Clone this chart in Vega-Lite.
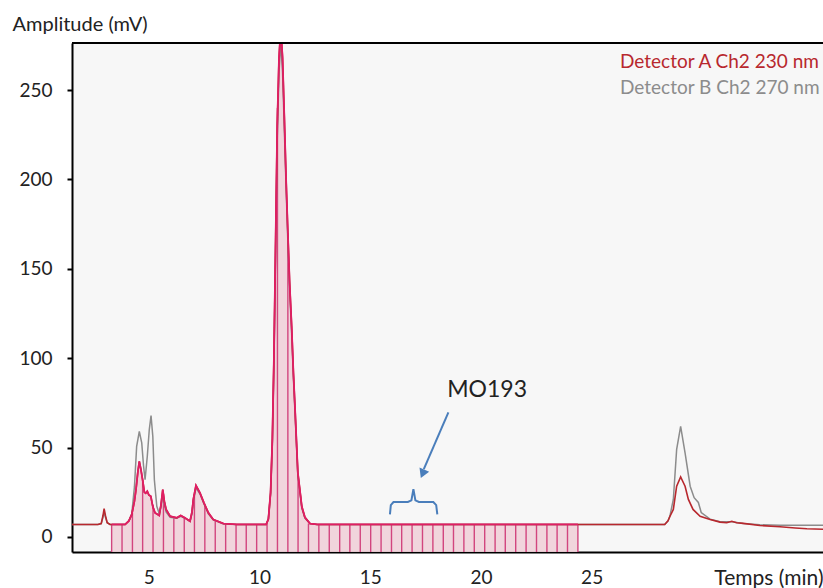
{
  "$schema": "https://vega.github.io/schema/vega-lite/v6.json",
  "width": 751,
  "height": 509,
  "autosize": {"type": "none"},
  "padding": {"left": 72, "top": 43, "right": 0, "bottom": 36},
  "background": "white",
  "config": {"view": {"stroke": null, "fill": "#f7f7f7"}, "font": "Lato", "axis": {"grid": false}},
  "datasets": {
    "A": [
      {"t": 1.53, "v": 7}, {"t": 2.7, "v": 7}, {"t": 2.85, "v": 7.5}, {"t": 2.93, "v": 12}, {"t": 2.98, "v": 15.8},
      {"t": 3.04, "v": 12}, {"t": 3.12, "v": 8}, {"t": 3.25, "v": 7}, {"t": 3.32, "v": 7}, {"t": 3.93, "v": 7},
      {"t": 4.1, "v": 9}, {"t": 4.23, "v": 12.6}, {"t": 4.35, "v": 20}, {"t": 4.42, "v": 26.5}, {"t": 4.5, "v": 36},
      {"t": 4.57, "v": 42.3}, {"t": 4.64, "v": 38}, {"t": 4.72, "v": 32}, {"t": 4.8, "v": 25}, {"t": 4.86, "v": 24.5},
      {"t": 4.93, "v": 25.6}, {"t": 5.0, "v": 23.5}, {"t": 5.09, "v": 22.8}, {"t": 5.18, "v": 17}, {"t": 5.28, "v": 13.5},
      {"t": 5.47, "v": 12}, {"t": 5.55, "v": 18}, {"t": 5.63, "v": 26.5}, {"t": 5.7, "v": 20}, {"t": 5.78, "v": 15.4},
      {"t": 5.96, "v": 11.6}, {"t": 6.26, "v": 10.7}, {"t": 6.44, "v": 12}, {"t": 6.63, "v": 10.7}, {"t": 6.86, "v": 8.8},
      {"t": 6.95, "v": 14}, {"t": 7.01, "v": 21}, {"t": 7.13, "v": 28.8}, {"t": 7.31, "v": 24.7}, {"t": 7.49, "v": 19.1},
      {"t": 7.69, "v": 13.5}, {"t": 7.91, "v": 9.8}, {"t": 8.37, "v": 7.5}, {"t": 8.97, "v": 7}, {"t": 10.3, "v": 7},
      {"t": 10.4, "v": 10}, {"t": 10.5, "v": 25}, {"t": 10.58, "v": 55}, {"t": 10.65, "v": 100}, {"t": 10.72, "v": 160},
      {"t": 10.8, "v": 230}, {"t": 10.88, "v": 268}, {"t": 10.96, "v": 285}, {"t": 11.04, "v": 268}, {"t": 11.12, "v": 235},
      {"t": 11.2, "v": 200}, {"t": 11.28, "v": 170}, {"t": 11.36, "v": 142}, {"t": 11.45, "v": 118}, {"t": 11.53, "v": 92},
      {"t": 11.6, "v": 73}, {"t": 11.73, "v": 36}, {"t": 11.91, "v": 17}, {"t": 12.05, "v": 11}, {"t": 12.28, "v": 7.5},
      {"t": 12.6, "v": 7}, {"t": 20.0, "v": 7}, {"t": 24.38, "v": 7}, {"t": 28.3, "v": 7}, {"t": 28.45, "v": 9},
      {"t": 28.54, "v": 11.6}, {"t": 28.69, "v": 15.4}, {"t": 28.84, "v": 28.4}, {"t": 29.02, "v": 33.6}, {"t": 29.22, "v": 28.4},
      {"t": 29.37, "v": 21}, {"t": 29.58, "v": 15.4}, {"t": 29.9, "v": 11.6}, {"t": 30.35, "v": 9.8}, {"t": 30.8, "v": 8.3},
      {"t": 31.1, "v": 8}, {"t": 31.33, "v": 8.8}, {"t": 31.55, "v": 8}, {"t": 31.85, "v": 7.6}, {"t": 32.6, "v": 6.4},
      {"t": 33.51, "v": 5.7}, {"t": 34.2, "v": 5}, {"t": 34.72, "v": 4.6}, {"t": 35.45, "v": 4.3}
    ],
    "B": [
      {"t": 1.53, "v": 7}, {"t": 2.7, "v": 7}, {"t": 2.85, "v": 7.5}, {"t": 2.93, "v": 11}, {"t": 2.98, "v": 14},
      {"t": 3.04, "v": 11}, {"t": 3.12, "v": 8}, {"t": 3.25, "v": 7}, {"t": 3.93, "v": 7}, {"t": 4.1, "v": 9},
      {"t": 4.23, "v": 13}, {"t": 4.35, "v": 28}, {"t": 4.45, "v": 50.7}, {"t": 4.57, "v": 59}, {"t": 4.68, "v": 52.6},
      {"t": 4.76, "v": 40}, {"t": 4.83, "v": 32}, {"t": 4.93, "v": 45}, {"t": 5.02, "v": 60}, {"t": 5.1, "v": 67.9},
      {"t": 5.18, "v": 56.3}, {"t": 5.25, "v": 32}, {"t": 5.36, "v": 17.2}, {"t": 5.47, "v": 13}, {"t": 5.55, "v": 17},
      {"t": 5.63, "v": 24}, {"t": 5.7, "v": 18}, {"t": 5.78, "v": 14}, {"t": 5.96, "v": 11}, {"t": 6.26, "v": 10.5},
      {"t": 6.44, "v": 11.5}, {"t": 6.63, "v": 10.5}, {"t": 6.86, "v": 8.8}, {"t": 6.95, "v": 13}, {"t": 7.01, "v": 20},
      {"t": 7.13, "v": 27.5}, {"t": 7.31, "v": 24}, {"t": 7.49, "v": 18.5}, {"t": 7.69, "v": 13}, {"t": 7.91, "v": 9.5},
      {"t": 8.37, "v": 7.3}, {"t": 8.97, "v": 7}, {"t": 10.3, "v": 7}, {"t": 10.4, "v": 10}, {"t": 10.5, "v": 24},
      {"t": 10.58, "v": 52}, {"t": 10.65, "v": 96}, {"t": 10.72, "v": 155}, {"t": 10.8, "v": 222}, {"t": 10.88, "v": 260},
      {"t": 10.96, "v": 276}, {"t": 11.04, "v": 260}, {"t": 11.12, "v": 228}, {"t": 11.2, "v": 195}, {"t": 11.28, "v": 165},
      {"t": 11.36, "v": 138}, {"t": 11.45, "v": 114}, {"t": 11.53, "v": 89}, {"t": 11.6, "v": 70}, {"t": 11.73, "v": 35},
      {"t": 11.91, "v": 16}, {"t": 12.05, "v": 10.5}, {"t": 12.28, "v": 7.5}, {"t": 12.6, "v": 7}, {"t": 28.3, "v": 7},
      {"t": 28.45, "v": 9}, {"t": 28.54, "v": 12}, {"t": 28.69, "v": 21}, {"t": 28.84, "v": 49}, {"t": 29.02, "v": 61.9},
      {"t": 29.22, "v": 47}, {"t": 29.45, "v": 28.4}, {"t": 29.63, "v": 22}, {"t": 29.82, "v": 19.3}, {"t": 29.95, "v": 13.7},
      {"t": 30.35, "v": 10}, {"t": 30.8, "v": 8.5}, {"t": 31.33, "v": 8.5}, {"t": 31.85, "v": 7.6}, {"t": 32.6, "v": 6.8},
      {"t": 33.51, "v": 6.6}, {"t": 35.45, "v": 6.6}
    ],
    "fractions": [
      {"t": 3.32, "top": 7}, {"t": 3.79, "top": 7}, {"t": 4.26, "top": 13.5}, {"t": 4.72, "top": 32}, {"t": 5.19, "top": 18},
      {"t": 5.66, "top": 24}, {"t": 6.13, "top": 11}, {"t": 6.6, "top": 11}, {"t": 7.06, "top": 24}, {"t": 7.53, "top": 18},
      {"t": 8.0, "top": 9.5}, {"t": 8.47, "top": 7.3}, {"t": 8.94, "top": 7}, {"t": 9.4, "top": 7}, {"t": 9.87, "top": 7},
      {"t": 10.34, "top": 7.5}, {"t": 10.81, "top": 240}, {"t": 11.28, "top": 170}, {"t": 11.74, "top": 35}, {"t": 12.21, "top": 7.5},
      {"t": 12.68, "top": 7}, {"t": 13.15, "top": 7}, {"t": 13.62, "top": 7}, {"t": 14.08, "top": 7}, {"t": 14.55, "top": 7},
      {"t": 15.02, "top": 7}, {"t": 15.49, "top": 7}, {"t": 15.96, "top": 7}, {"t": 16.42, "top": 7}, {"t": 16.89, "top": 7},
      {"t": 17.36, "top": 7}, {"t": 17.83, "top": 7}, {"t": 18.3, "top": 7}, {"t": 18.76, "top": 7}, {"t": 19.23, "top": 7},
      {"t": 19.7, "top": 7}, {"t": 20.17, "top": 7}, {"t": 20.64, "top": 7}, {"t": 21.1, "top": 7}, {"t": 21.57, "top": 7},
      {"t": 22.04, "top": 7}, {"t": 22.51, "top": 7}, {"t": 22.98, "top": 7}, {"t": 23.44, "top": 7}, {"t": 23.91, "top": 7},
      {"t": 24.38, "top": 7}
    ],
    "brace": [
      {"t": 15.89, "v": 12.6}, {"t": 15.93, "v": 17.8}, {"t": 16.05, "v": 19.5}, {"t": 16.7, "v": 19.6}, {"t": 16.86, "v": 20.5},
      {"t": 16.95, "v": 26.8}, {"t": 17.04, "v": 20.5}, {"t": 17.2, "v": 19.6}, {"t": 17.85, "v": 19.5}, {"t": 17.98, "v": 17.8},
      {"t": 18.03, "v": 12.6}
    ],
    "arrow": [{"t": 18.53, "v": 69.7}, {"t": 17.42, "v": 38}],
    "head": [{"t": 17.39, "v": 36.1}],
    "label": [{"t": 20.28, "v": 82.4, "text": "MO193"}]
  },
  "layer": [
    {
      "data": {"name": "A"},
      "transform": [{"filter": "datum.t >= 3.32 && datum.t <= 24.38"}],
      "mark": {"type": "area", "color": "#efd0d8", "opacity": 0.9, "clip": true},
      "encoding": {
        "x": {
          "field": "t", "type": "quantitative",
          "scale": {"domain": [1.53, 35.45], "nice": false, "zero": false},
          "axis": {
            "title": "Temps (min)", "values": [5, 10, 15, 20, 25], "ticks": false,
            "domainColor": "black", "domainWidth": 2,
            "labelFontSize": 19, "labelColor": "#222", "labelPadding": 16,
            "titleX": 751, "titleY": 26, "titleAlign": "right", "titleBaseline": "middle",
            "titleFontSize": 21, "titleFontWeight": "normal", "titleColor": "#222"
          }
        },
        "y": {
          "field": "v", "type": "quantitative",
          "scale": {"domain": [-8.4, 276.3], "nice": false, "zero": false},
          "axis": {
            "title": "Amplitude (mV)", "values": [0, 50, 100, 150, 200, 250],
            "tickSize": 5, "tickWidth": 2, "tickColor": "black",
            "domainColor": "black", "domainWidth": 2,
            "labelFontSize": 19, "labelColor": "#222", "labelPadding": 15,
            "titleAngle": 0, "titleX": -60, "titleY": -19, "titleAlign": "left", "titleBaseline": "middle",
            "titleFontSize": 20, "titleFontWeight": "normal", "titleColor": "#222"
          }
        },
        "y2": {"datum": -8.4}
      }
    },
    {
      "data": {"name": "fractions"},
      "mark": {"type": "rule", "color": "#d2457e", "strokeWidth": 1.4, "clip": true},
      "encoding": {
        "x": {"field": "t", "type": "quantitative"},
        "y": {"field": "top", "type": "quantitative"},
        "y2": {"datum": -8.4}
      }
    },
    {
      "data": {"name": "B"},
      "mark": {"type": "line", "strokeWidth": 1.5, "clip": true},
      "encoding": {
        "x": {"field": "t", "type": "quantitative"},
        "y": {"field": "v", "type": "quantitative"},
        "color": {
          "datum": "Detector B Ch2 270 nm",
          "scale": {"domain": ["Detector A Ch2 230 nm", "Detector B Ch2 270 nm"], "range": ["#b8282e", "#8c8c8c"]},
          "legend": {
            "orient": "none", "legendX": 529, "legendY": 9, "title": null, "padding": 0,
            "symbolSize": 0, "symbolStrokeWidth": 0, "symbolOpacity": 0, "labelOffset": 0,
            "labelFontSize": 19, "rowPadding": 6, "labelLimit": 400,
            "encode": {"labels": {"update": {"fill": {"scale": "color", "field": "value"}}}}
          }
        }
      }
    },
    {
      "data": {"name": "A"},
      "mark": {"type": "line", "strokeWidth": 1.6, "clip": true},
      "encoding": {
        "x": {"field": "t", "type": "quantitative"},
        "y": {"field": "v", "type": "quantitative"},
        "color": {"datum": "Detector A Ch2 230 nm"}
      }
    },
    {
      "data": {"name": "A"},
      "transform": [{"filter": "datum.t >= 3.32 && datum.t <= 24.38"}],
      "mark": {"type": "line", "strokeWidth": 1.8, "color": "#e01e64", "clip": true},
      "encoding": {
        "x": {"field": "t", "type": "quantitative"},
        "y": {"field": "v", "type": "quantitative"}
      }
    },
    {
      "data": {"values": [{}]},
      "mark": {"type": "rule", "color": "black", "strokeWidth": 2, "clip": false},
      "encoding": {"y": {"datum": 276.3}}
    },
    {
      "data": {"name": "brace"},
      "mark": {"type": "line", "color": "#4a7ebb", "strokeWidth": 2},
      "encoding": {
        "x": {"field": "t", "type": "quantitative"},
        "y": {"field": "v", "type": "quantitative"}
      }
    },
    {
      "data": {"name": "arrow"},
      "mark": {"type": "line", "color": "#4a7ebb", "strokeWidth": 2},
      "encoding": {
        "x": {"field": "t", "type": "quantitative"},
        "y": {"field": "v", "type": "quantitative"}
      }
    },
    {
      "data": {"name": "head"},
      "mark": {"type": "point", "shape": "triangle", "filled": true, "color": "#4a7ebb", "opacity": 1, "size": 110, "angle": 202.7},
      "encoding": {
        "x": {"field": "t", "type": "quantitative"},
        "y": {"field": "v", "type": "quantitative"}
      }
    },
    {
      "data": {"name": "label"},
      "mark": {"type": "text", "fontSize": 23, "color": "#222", "font": "Lato"},
      "encoding": {
        "x": {"field": "t", "type": "quantitative"},
        "y": {"field": "v", "type": "quantitative"},
        "text": {"field": "text"}
      }
    }
  ]
}
